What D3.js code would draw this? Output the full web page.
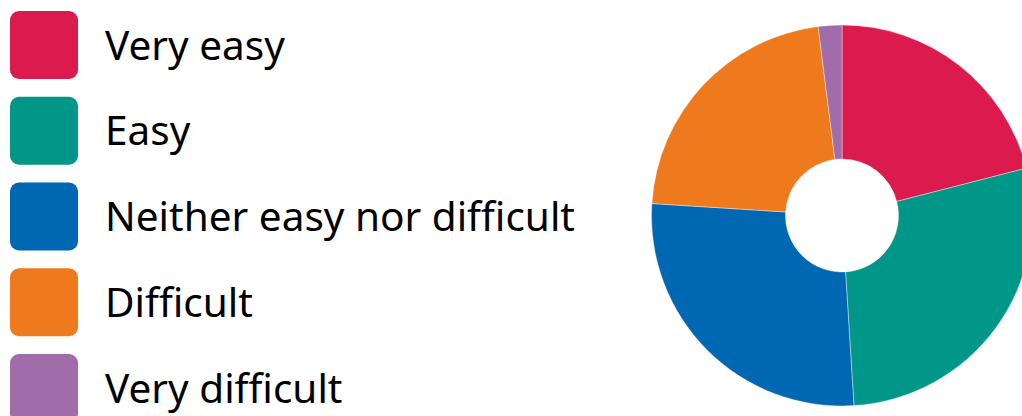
<!DOCTYPE html>
<html>
<head>
<meta charset="utf-8">
<script src="https://cdn.jsdelivr.net/npm/d3@7"></script>
<style>
  html, body { margin: 0; padding: 0; background: #fff; }
  svg { display: block; }
</style>
</head>
<body>
<svg id="chart" width="1022" height="416"></svg>
<script>
const categories = ["Very easy", "Easy", "Neither easy nor difficult", "Difficult", "Very difficult"];
const values = [21, 28, 27, 22, 2];
const colors = ["#DB1B4E", "#009688", "#0067B2", "#EF7A1D", "#A06CAA"];

const data = categories.map((c, i) => ({ category: c, value: values[i], color: colors[i] }));

const svg = d3.select("#chart");

// Donut
const cx = 842, cy = 215.5, outerR = 190.5, innerR = 56.5;
const pie = d3.pie().sort(null).value(d => d.value);
const arc = d3.arc().innerRadius(innerR).outerRadius(outerR);
const g = svg.append("g").attr("transform", `translate(${cx},${cy})`);
g.selectAll("path")
  .data(pie(data))
  .join("path")
  .attr("d", arc)
  .attr("fill", d => d.data.color)
  .attr("stroke", "#fff")
  .attr("stroke-width", 0.4);

// Legend
const sq = 68;
const y = d3.scalePoint().domain(categories).range([11, 11 + 4 * 85.75]);
const items = svg.append("g").selectAll("g.item").data(data).join("g")
  .attr("class", "item")
  .attr("transform", d => `translate(10,${y(d.category)})`);
items.append("rect")
  .attr("width", sq).attr("height", sq)
  .attr("rx", 9).attr("ry", 9)
  .attr("fill", d => d.color);
items.append("text")
  .attr("x", 95)
  .attr("y", sq / 2)
  .attr("dy", "0.36em")
  .attr("font-family", "'Noto Sans', 'Open Sans', sans-serif")
  .attr("font-size", 40.5)
  .attr("fill", "#000")
  .text(d => d.category);
</script>
</body>
</html>
